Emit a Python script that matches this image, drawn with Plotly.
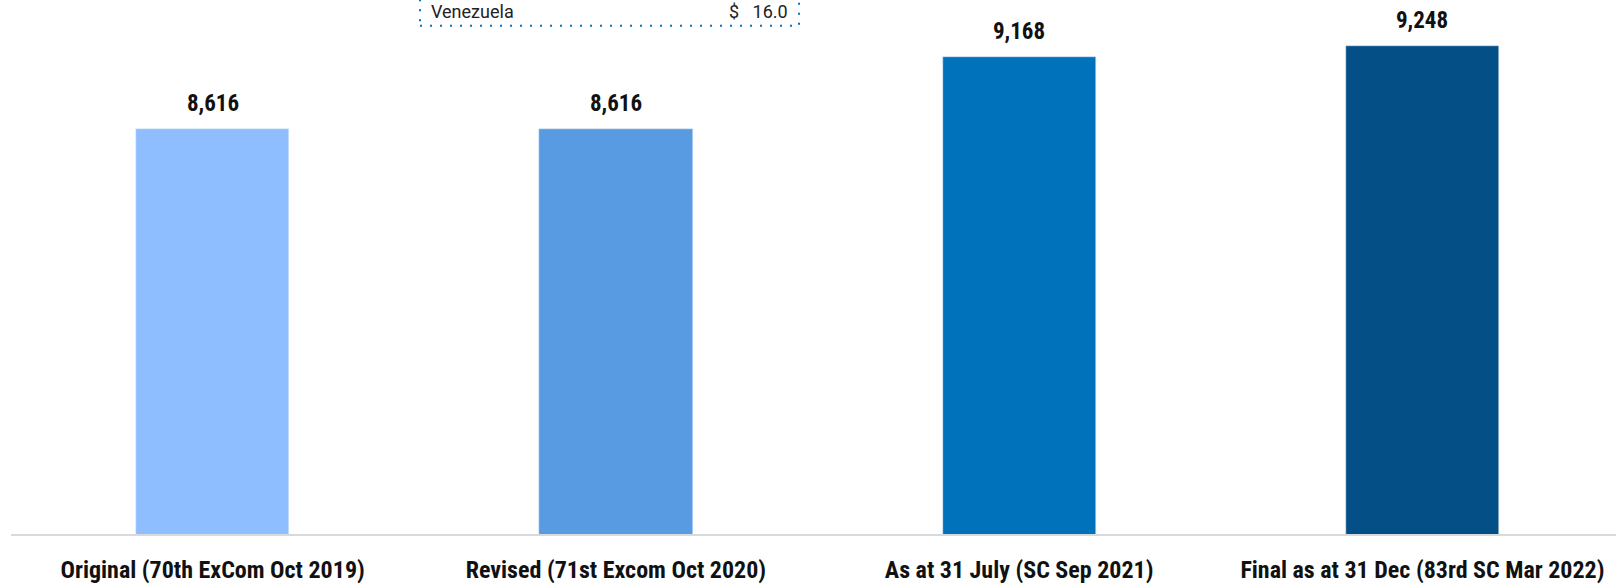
import plotly.graph_objects as go

categories = ['Original (70th ExCom Oct 2019)',
              'Revised (71st Excom Oct 2020)',
              'As at 31 July (SC Sep 2021)',
              'Final as at 31 Dec (83rd SC Mar 2022)']
budget = [8616, 8616, 9168, 9248]
bar_colors = ['#8EBEFF', '#589BE3', '#0072BC', '#044F85']

inset_country = 'Venezuela'
inset_value = 16.0

LABEL_FONT = 'Roboto Condensed, Liberation Sans Narrow, Roboto'
W, H = 1616, 584

fig = go.Figure()
fig.add_trace(go.Bar(x=categories,
                     y=budget,
                     marker_color=bar_colors,
                     width=0.38,
                     hoverinfo='skip'))

# value labels above each bar
for cat, val in zip(categories, budget):
    fig.add_annotation(x=cat, y=val,
                       text=f'<b>{val:,}</b>',
                       showarrow=False,
                       yanchor='bottom',
                       yshift=10,
                       font=dict(family=LABEL_FONT, size=23, color='#111111'))

# cut-off dotted table box at the top
plot_h = 537
dot_line = dict(color='#0072BC', width=2, dash='2px,8px')
fig.add_shape(type='rect', xref='paper', yref='paper',
              x0=(420 - 11) / (W - 11), x1=(799 - 11) / (W - 11),
              y0=(plot_h - 26) / plot_h, y1=1.1,
              line=dot_line, fillcolor='rgba(0,0,0,0)')
fig.add_annotation(xref='paper', yref='paper', x=(429 - 11) / (W - 11),
                   y=(plot_h - 12) / plot_h,
                   text=inset_country, showarrow=False,
                   xanchor='left', yanchor='middle',
                   font=dict(family='Roboto', size=18, color='#222222'))
fig.add_annotation(xref='paper', yref='paper', x=(790 - 11) / (W - 11),
                   y=(plot_h - 12) / plot_h,
                   text=f'$   {inset_value:.1f}', showarrow=False,
                   xanchor='right', yanchor='middle',
                   font=dict(family='Roboto', size=18, color='#222222'))

fig.update_xaxes(range=[-0.5, 3.48],
                 showline=True, linecolor='#D9D9D9', linewidth=2,
                 showgrid=False, ticks='',
                 ticklabelstandoff=13,
                 tickfont=dict(family=LABEL_FONT, size=24, color='#111111',
                               weight='bold'))
fig.update_yaxes(range=[5529, 9601], visible=False, showgrid=False)

fig.update_layout(width=W, height=H,
                  margin=dict(l=11, r=0, t=0, b=H - plot_h),
                  plot_bgcolor='white', paper_bgcolor='white',
                  showlegend=False, bargap=0)

fig.write_html('out.html',
               config={'displayModeBar': False},
               post_script="document.body.style.margin='0';")
